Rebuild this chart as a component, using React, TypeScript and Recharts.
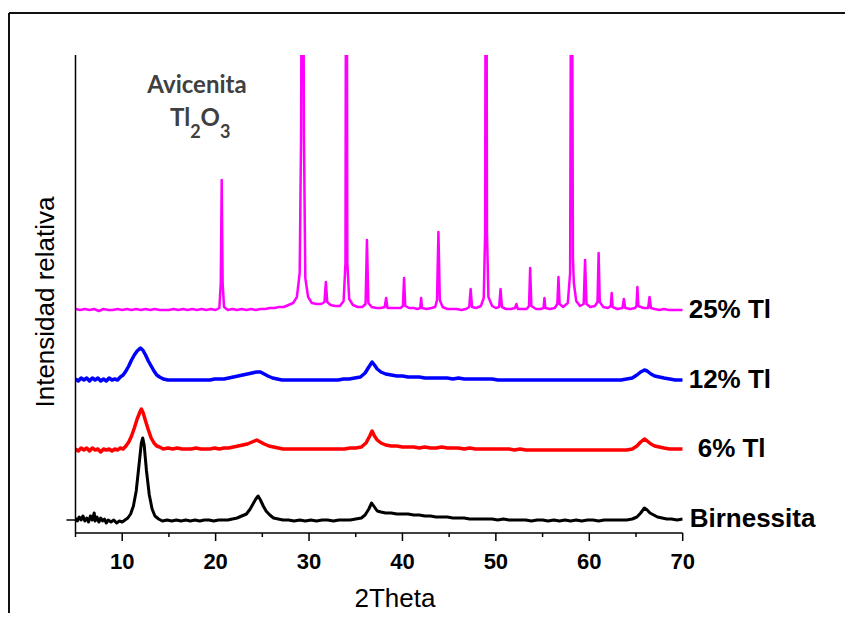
import { Line, LineChart, XAxis, YAxis } from "recharts";

// 2θ (degrees) vs relative intensity, traces stacked with offsets as in the original figure
const birnessita: [number, number][] = [
  [5.0, 15], [5.2, 12], [5.4, 16], [5.6, 13], [5.8, 17], [6.0, 12], [6.2, 15], [6.4, 11],
  [6.6, 17], [6.8, 13], [7.0, 20], [7.1, 12], [7.3, 16], [7.5, 11], [7.7, 15], [7.9, 12],
  [8.1, 14], [8.3, 10], [8.5, 13], [8.8, 11], [9.1, 13], [9.4, 10], [9.7, 12], [10.0, 11],
  [10.3, 13], [10.6, 15], [10.9, 19], [11.2, 27], [11.5, 42], [11.8, 68], [12.05, 90],
  [12.2, 95], [12.35, 88], [12.6, 62], [12.9, 38], [13.2, 24], [13.5, 17], [13.9, 14],
  [14.3, 12], [14.8, 13], [15.3, 12], [15.8, 13], [16.3, 12], [16.8, 13], [17.3, 12],
  [17.8, 13], [18.3, 12], [18.8, 13], [19.3, 13], [19.8, 12], [20.3, 13], [20.8, 13],
  [21.3, 13], [21.8, 14], [22.3, 15], [22.8, 17], [23.3, 19], [23.7, 24], [24.0, 29],
  [24.3, 34], [24.55, 37], [24.8, 33], [25.1, 27], [25.4, 22], [25.8, 18], [26.2, 15],
  [26.7, 14], [27.2, 13], [27.8, 13], [28.4, 12], [29.0, 13], [29.6, 12], [30.2, 13],
  [30.8, 12], [31.4, 13], [32.0, 13], [32.6, 12], [33.2, 13], [33.8, 13], [34.4, 13],
  [35.0, 14], [35.6, 15], [36.0, 18], [36.4, 24], [36.7, 30], [37.0, 26], [37.3, 22],
  [37.7, 21], [38.2, 20], [38.8, 20], [39.4, 19], [40.0, 19], [40.6, 19], [41.2, 18],
  [41.8, 18], [42.4, 17], [43.0, 17], [43.6, 16], [44.2, 16], [44.8, 16], [45.4, 15],
  [46.0, 15], [46.6, 15], [47.2, 14], [47.8, 14], [48.4, 14], [49.0, 14], [49.6, 14],
  [50.2, 13], [50.8, 14], [51.4, 13], [52.0, 13], [52.6, 13], [53.2, 13], [53.8, 12],
  [54.4, 13], [55.0, 13], [55.6, 12], [56.2, 13], [56.8, 12], [57.4, 13], [58.0, 12],
  [58.6, 13], [59.2, 12], [59.8, 13], [60.4, 13], [61.0, 12], [61.6, 13], [62.2, 13],
  [62.8, 13], [63.4, 13], [64.0, 13], [64.6, 14], [65.1, 16], [65.5, 20], [65.9, 25],
  [66.2, 23], [66.5, 20], [66.9, 18], [67.3, 16], [67.8, 15], [68.3, 14], [68.8, 14],
  [69.4, 13], [70.0, 14],
];

const tl6: [number, number][] = [
  [5.0, 84], [5.3, 82], [5.6, 85], [5.9, 83], [6.2, 85], [6.5, 82], [6.8, 85], [7.1, 83],
  [7.4, 84], [7.7, 81], [8.0, 84], [8.3, 83], [8.6, 84], [8.9, 82], [9.2, 84], [9.5, 83],
  [9.8, 85], [10.1, 84], [10.4, 87], [10.7, 91], [11.0, 97], [11.3, 105], [11.6, 114],
  [11.9, 121], [12.05, 124], [12.25, 120], [12.5, 112], [12.8, 103], [13.1, 95], [13.4, 90],
  [13.7, 87], [14.0, 86], [14.4, 84], [14.9, 85], [15.4, 84], [15.9, 85], [16.4, 84],
  [16.9, 84], [17.4, 84], [17.9, 85], [18.4, 84], [18.9, 84], [19.4, 84], [19.9, 85],
  [20.4, 84], [20.9, 85], [21.4, 85], [21.9, 86], [22.4, 87], [22.9, 88], [23.4, 89],
  [23.9, 91], [24.4, 93], [24.8, 91], [25.2, 89], [25.7, 87], [26.2, 86], [26.7, 85],
  [27.2, 84], [27.8, 84], [28.4, 84], [29.0, 84], [29.6, 84], [30.2, 84], [30.8, 84],
  [31.4, 84], [32.0, 84], [32.6, 84], [33.2, 84], [33.8, 84], [34.4, 85], [35.0, 85],
  [35.6, 86], [36.1, 90], [36.5, 97], [36.75, 102], [37.0, 97], [37.3, 93], [37.7, 90],
  [38.2, 88], [38.8, 87], [39.4, 87], [40.0, 86], [40.6, 86], [41.2, 86], [41.8, 85],
  [42.4, 86], [43.0, 85], [43.6, 85], [44.2, 86], [44.8, 85], [45.4, 85], [46.0, 85],
  [46.6, 84], [47.2, 85], [47.8, 84], [48.4, 84], [49.0, 84], [49.6, 84], [50.2, 84],
  [50.8, 84], [51.4, 84], [52.0, 83], [52.6, 84], [53.2, 83], [53.8, 83], [54.4, 83],
  [55.0, 83], [55.6, 83], [56.2, 83], [56.8, 83], [57.4, 83], [58.0, 83], [58.6, 83],
  [59.2, 83], [59.8, 83], [60.4, 83], [61.0, 83], [61.6, 83], [62.2, 83], [62.8, 83],
  [63.4, 83], [64.0, 83], [64.6, 84], [65.1, 87], [65.5, 91], [65.9, 94], [66.2, 92],
  [66.6, 89], [67.0, 87], [67.5, 86], [68.0, 85], [68.6, 84], [69.2, 84], [70.0, 84],
];

const tl12: [number, number][] = [
  [5.0, 154], [5.3, 152], [5.6, 155], [5.9, 153], [6.2, 155], [6.5, 152], [6.8, 155],
  [7.1, 153], [7.4, 155], [7.7, 152], [8.0, 154], [8.3, 152], [8.6, 155], [8.9, 153],
  [9.2, 154], [9.5, 153], [9.8, 156], [10.1, 158], [10.4, 162], [10.7, 167], [11.0, 173],
  [11.3, 178], [11.6, 182], [11.95, 185], [12.2, 183], [12.5, 178], [12.8, 172], [13.1, 167],
  [13.4, 162], [13.7, 158], [14.0, 156], [14.4, 154], [14.9, 153], [15.4, 153], [15.9, 153],
  [16.4, 153], [16.9, 153], [17.4, 153], [17.9, 153], [18.4, 153], [18.9, 153], [19.4, 153],
  [19.9, 154], [20.4, 154], [20.9, 154], [21.4, 155], [21.9, 156], [22.4, 157], [22.9, 158],
  [23.4, 159], [23.9, 160], [24.4, 161], [24.8, 161], [25.2, 159], [25.6, 157], [26.1, 155],
  [26.6, 154], [27.1, 153], [27.7, 153], [28.3, 153], [28.9, 153], [29.5, 153], [30.1, 153],
  [30.7, 153], [31.3, 153], [31.9, 153], [32.5, 153], [33.1, 153], [33.7, 154], [34.3, 154],
  [34.9, 155], [35.5, 156], [36.0, 160], [36.4, 166], [36.75, 171], [37.0, 168], [37.3, 164],
  [37.7, 161], [38.2, 159], [38.8, 158], [39.4, 157], [40.0, 157], [40.6, 156], [41.2, 156],
  [41.8, 156], [42.4, 155], [43.0, 155], [43.6, 155], [44.2, 155], [44.8, 155], [45.4, 154],
  [46.0, 155], [46.6, 154], [47.2, 154], [47.8, 154], [48.4, 154], [49.0, 154], [49.6, 154],
  [50.2, 153], [50.8, 153], [51.4, 153], [52.0, 153], [52.6, 153], [53.2, 153], [53.8, 153],
  [54.4, 153], [55.0, 153], [55.6, 153], [56.2, 153], [56.8, 153], [57.4, 153], [58.0, 153],
  [58.6, 153], [59.2, 153], [59.8, 153], [60.4, 153], [61.0, 153], [61.6, 153], [62.2, 153],
  [62.8, 153], [63.4, 153], [64.0, 154], [64.6, 155], [65.1, 158], [65.5, 161], [65.9, 163],
  [66.2, 162], [66.6, 159], [67.0, 157], [67.5, 156], [68.0, 155], [68.6, 154], [69.2, 153],
  [70.0, 153],
];

const tl25: [number, number][] = [
  [5.0, 224], [5.5, 223], [6.0, 224], [6.5, 223], [7.0, 224], [7.5, 222], [8.0, 224],
  [8.5, 223], [9.0, 223], [9.5, 224], [10.0, 223], [10.5, 224], [11.0, 223], [11.5, 224],
  [12.0, 223], [12.5, 224], [13.0, 223], [13.5, 224], [14.0, 223], [14.5, 223], [15.0, 223],
  [15.5, 224], [16.0, 223], [16.5, 224], [17.0, 223], [17.5, 224], [18.0, 223], [18.5, 224],
  [19.0, 223], [19.5, 224], [20.0, 223], [20.4, 225], [20.55, 250], [20.65, 353], [20.75, 250],
  [20.9, 226], [21.3, 223], [21.8, 224], [22.3, 223], [22.8, 224], [23.3, 223], [23.8, 224],
  [24.3, 223], [24.8, 224], [25.3, 224], [25.8, 225], [26.3, 225], [26.8, 226], [27.3, 226],
  [27.8, 228], [28.3, 230], [28.7, 236], [29.0, 260], [29.15, 400], [29.3, 900], [29.45, 400],
  [29.6, 255], [29.9, 236], [30.3, 230], [30.8, 229], [31.3, 229], [31.65, 231], [31.8, 251],
  [31.95, 231], [32.3, 228], [32.8, 227], [33.3, 227], [33.7, 232], [33.9, 270], [34.0, 880],
  [34.1, 270], [34.3, 234], [34.7, 228], [35.2, 226], [35.7, 226], [36.05, 229], [36.2, 293],
  [36.35, 230], [36.7, 226], [37.2, 225], [37.7, 225], [38.1, 226], [38.25, 235], [38.4, 225],
  [38.9, 225], [39.4, 225], [39.8, 225], [40.05, 227], [40.17, 255], [40.3, 227], [40.7, 225],
  [41.2, 225], [41.6, 224], [41.9, 225], [42.0, 235], [42.1, 225], [42.6, 224], [43.1, 225],
  [43.5, 226], [43.7, 233], [43.85, 301], [44.0, 233], [44.3, 226], [44.8, 224], [45.3, 224],
  [45.8, 224], [46.3, 223], [46.8, 224], [47.15, 226], [47.3, 244], [47.45, 226], [47.9, 225],
  [48.4, 227], [48.7, 235], [48.85, 300], [48.95, 850], [49.05, 300], [49.2, 236], [49.6, 227],
  [50.0, 225], [50.35, 226], [50.5, 244], [50.65, 226], [51.1, 224], [51.6, 224], [52.05, 225],
  [52.2, 229], [52.35, 224], [52.8, 224], [53.3, 224], [53.55, 227], [53.67, 265], [53.8, 227],
  [54.3, 224], [54.8, 224], [55.1, 225], [55.2, 235], [55.3, 225], [55.8, 224], [56.3, 225],
  [56.58, 229], [56.7, 256], [56.82, 229], [57.2, 226], [57.7, 230], [57.95, 260], [58.1, 780],
  [58.25, 275], [58.35, 250], [58.6, 232], [59.0, 227], [59.4, 229], [59.55, 273], [59.7, 229],
  [60.1, 226], [60.6, 227], [60.88, 231], [61.0, 280], [61.12, 231], [61.5, 226], [62.0, 225],
  [62.3, 227], [62.4, 240], [62.5, 226], [63.0, 224], [63.55, 225], [63.7, 234], [63.85, 225],
  [64.4, 224], [64.9, 225], [65.05, 227], [65.15, 246], [65.25, 227], [65.8, 225], [66.3, 225],
  [66.45, 236], [66.6, 225], [67.0, 224], [67.5, 223], [68.0, 224], [68.5, 223], [69.0, 223],
  [69.5, 223], [70.0, 223],
];

const xTicks = [5, 10, 15, 20, 25, 30, 35, 40, 45, 50, 55, 60, 65, 70];
const yTicks = [13];

const series = [
  { name: "25% Tl", points: tl25, color: "#ff00ff", dx: 6, width: 2.5 },
  { name: "12% Tl", points: tl12, color: "#0000ff", dx: 6, width: 3.5 },
  { name: "6% Tl", points: tl6, color: "#ff0000", dx: 15, width: 3.5 },
  { name: "Birnessita", points: birnessita, color: "#000000", dx: 7, width: 3 },
];

const toRows = (pts: [number, number][]) => pts.map(([x, y]) => ({ x, y }));

const FONT = "Arial, 'Liberation Sans', sans-serif";
const NOTE_FONT = "Lato, 'Open Sans', sans-serif";

const XTick = (props: any) => {
  const { x, y, payload } = props;
  const major = payload.value % 10 === 0;
  return (
    <g>
      <line x1={x} x2={x} y1={y} y2={y + (major ? 8 : 4)} stroke="#000" strokeWidth={1.5} />
      {major && (
        <text x={x} y={y + 36} textAnchor="middle" fontFamily={FONT} fontWeight="bold" fontSize={22} fill="#000">
          {payload.value}
        </text>
      )}
    </g>
  );
};

const YTick = (props: any) => {
  const { x, y } = props;
  return <line x1={x - 9} x2={x} y1={y} y2={y} stroke="#000" strokeWidth={1.5} />;
};

export default function App() {
  return (
    <div style={{ position: "relative", width: 837, height: 613, marginBottom: -8 }}>
      <div style={{ position: "absolute", left: -8, top: -8 }}>
        <LineChart
          width={852}
          height={612}
          margin={{ top: 55, left: 35.5, right: 169.3, bottom: 39 }}
        >
          <XAxis
            type="number"
            dataKey="x"
            domain={[5, 70]}
            ticks={xTicks}
            interval={0}
            allowDataOverflow
            height={40}
            tickSize={0}
            tickMargin={0}
            tickLine={false}
            axisLine={{ stroke: "#000", strokeWidth: 1.5 }}
            tick={XTick}
          />
          <YAxis
            type="number"
            domain={[0, 478]}
            ticks={yTicks}
            allowDataOverflow
            width={40}
            tickSize={0}
            tickMargin={0}
            tickLine={false}
            axisLine={{ stroke: "#000", strokeWidth: 1.5 }}
            tick={YTick}
          />
          {series.map((s) => (
            <Line
              key={s.name}
              data={toRows(s.points)}
              dataKey="y"
              type="linear"
              stroke={s.color}
              strokeWidth={s.width}
              strokeLinejoin="round"
              dot={false}
              activeDot={false}
              isAnimationActive={false}
              label={(p: any) =>
                p.index === s.points.length - 1 ? (
                  <text
                    key="end"
                    x={p.x + s.dx}
                    y={p.y + 8}
                    fontFamily={FONT}
                    fontWeight="bold"
                    fontSize={26}
                    fill="#000"
                  >
                    {s.name}
                  </text>
                ) : null
              }
            />
          ))}
        </LineChart>
      </div>
      <svg
        width={852}
        height={620}
        style={{ position: "absolute", left: -8, top: -8, pointerEvents: "none" }}
      >
        <line x1={9} y1={13} x2={852} y2={13} stroke="#111" strokeWidth={2} />
        <line x1={9} y1={13} x2={9} y2={620} stroke="#111" strokeWidth={2} />
        <text x={197} y={93} textAnchor="middle" fontFamily={NOTE_FONT} fontWeight="bold" fontSize={24} fill="#404040">
          Avicenita
        </text>
        <text x={170} y={126} fontFamily={NOTE_FONT} fontWeight="bold" fontSize={24} fill="#404040">
          Tl<tspan dy={12} fontSize={18}>2</tspan>
          <tspan dy={-12}>O</tspan>
          <tspan dy={12} fontSize={18}>3</tspan>
        </text>
        <text x={395} y={607} textAnchor="middle" fontFamily={FONT} fontSize={26} fill="#000">
          2Theta
        </text>
        <text
          x={0}
          y={0}
          transform="translate(54 302) rotate(-90)"
          textAnchor="middle"
          fontFamily={FONT}
          fontSize={26}
          fill="#000"
        >
          Intensidad relativa
        </text>
      </svg>
    </div>
  );
}
